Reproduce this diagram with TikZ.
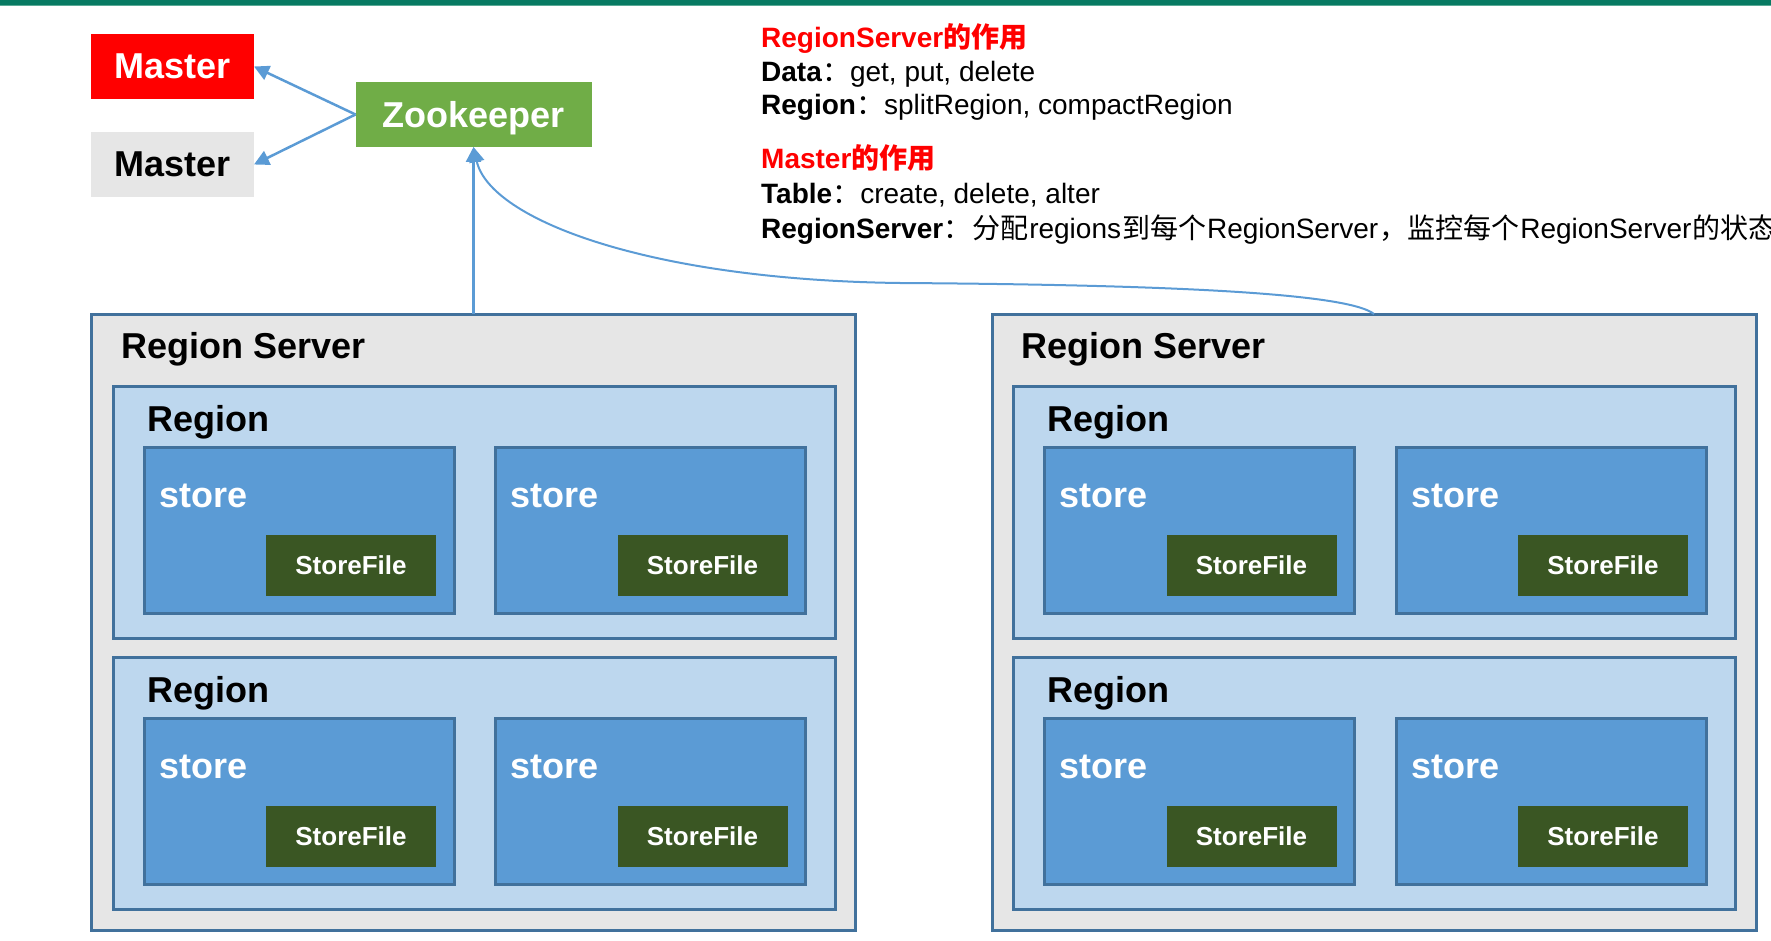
\documentclass[tikz,border=0pt]{standalone}
\usepackage{fontspec}
\setmainfont{Liberation Sans}
\newfontfamily\cjk{Noto Sans CJK SC}
\usetikzlibrary{arrows.meta}
\definecolor{topbar}{RGB}{7,122,98}
\definecolor{topline}{RGB}{90,170,150}
\definecolor{mred}{RGB}{255,0,0}
\definecolor{mgrey}{RGB}{230,230,230}
\definecolor{zkgreen}{RGB}{112,173,71}
\definecolor{bdr}{RGB}{65,113,156}
\definecolor{regbg}{RGB}{189,215,238}
\definecolor{storebg}{RGB}{91,155,213}
\definecolor{sfgreen}{RGB}{58,86,35}
\definecolor{arrowc}{RGB}{91,155,213}
\newcommand\fbig{\fontsize{36}{40}\selectfont\bfseries}
\newcommand\fsf{\fontsize{26}{30}\selectfont\bfseries}
\newcommand\ftxt{\fontsize{28}{32}\selectfont}
\newcommand\cj[1]{{\cjk\hspace{1pt}#1\hspace{1pt}}}
\begin{document}
\begin{tikzpicture}[x=1pt,y=-1pt,
  box/.style={rectangle, inner sep=0pt, outer sep=0pt},
  master/.style={box, minimum width=163, minimum height=65, font=\fbig},
  srv/.style={box, draw=bdr, line width=3pt, fill=mgrey, minimum width=764, minimum height=616},
  reg/.style={box, draw=bdr, line width=3pt, fill=regbg, minimum width=722, minimum height=252},
  storebox/.style={box, draw=bdr, line width=3pt, fill=storebg, minimum width=310, minimum height=166},
  sf/.style={box, fill=sfgreen, text=white, minimum width=170, minimum height=61, font=\fsf},
  lbl/.style={inner sep=0pt, anchor=base west, font=\fbig},
  txt/.style={inner sep=0pt, anchor=base west, font=\ftxt},
  conn/.style={draw=arrowc, line width=2.5pt, -{Triangle[length=15pt,width=15pt]}},
  conn2/.style={draw=arrowc, line width=2pt, -{Triangle[length=15pt,width=15pt]}}
]
\useasboundingbox (0,0) rectangle (1771,941);
\fill[topbar] (0,0) rectangle (1771,5.5);
\fill[topline] (0,5.5) rectangle (1771,6.5);

\node[master, fill=mred, text=white] (m1) at (172.5,66.5) {Master};
\node[master, fill=mgrey, text=black] (m2) at (172.5,164.5) {Master};
\node[box, fill=zkgreen, text=white, minimum width=236, minimum height=65, text depth=0pt, font=\fbig] (zk) at (473.5,114.5) {Zookeeper};

\foreach \s/\L in {1/91.5,2/992}{
  \node[srv] (srv\s) at (\L+382,622) {};
  \node[lbl] (srvl\s) at (\L+29.5,358) {Region Server};
  \foreach \r/\dy in {1/0,2/271}{
    \node[reg] (reg\s\r) at (\L+382.75,512+\dy) {};
    \node[lbl] (regl\s\r) at (\L+55.5,431+\dy) {Region};
    \foreach \k/\dx in {1/0,2/351.5}{
      \node[storebox] (st\s\r\k) at (\L+207.5+\dx,530+\dy) {};
      \node[lbl, text=white] (stl\s\r\k) at (\L+67.5+\dx,507+\dy) {store};
      \node[sf] (sf\s\r\k) at (\L+259.5+\dx,565.5+\dy) {StoreFile};
    }
  }
}

\draw[conn] (zk.west) -- (m1.east);
\draw[conn] (zk.west) -- (m2.east);
\draw[conn] (srv1.north) -- (zk.south);
\coordinate (cmid) at (900,283);
\draw[conn2] (srv2.north) .. controls (1350,295) and (1200,285) .. (cmid) .. controls (650,280) and (490,220) .. (zk.south);

\node[txt, text=mred, font=\ftxt\bfseries] (h1) at (761,48) {RegionServer{\cjk 的作用}};
\node[txt] (l1) at (761,82) {\textbf{Data}{\cjk ：}get, put, delete};
\node[txt] (l2) at (761,115) {\textbf{Region}{\cjk ：}splitRegion, compactRegion};
\node[txt, text=mred, font=\ftxt\bfseries] (h2) at (761,169) {Master{\cjk 的作用}};
\node[txt] (l3) at (761,204) {\textbf{Table}{\cjk ：}create, delete, alter};
\node[txt] (l4) at (761,239) {\textbf{RegionServer}{\cjk ：}\cj{分配}regions\cj{到每个}RegionServer\cj{，监控每个}RegionServer\cj{的状态}};
\end{tikzpicture}
\end{document}
